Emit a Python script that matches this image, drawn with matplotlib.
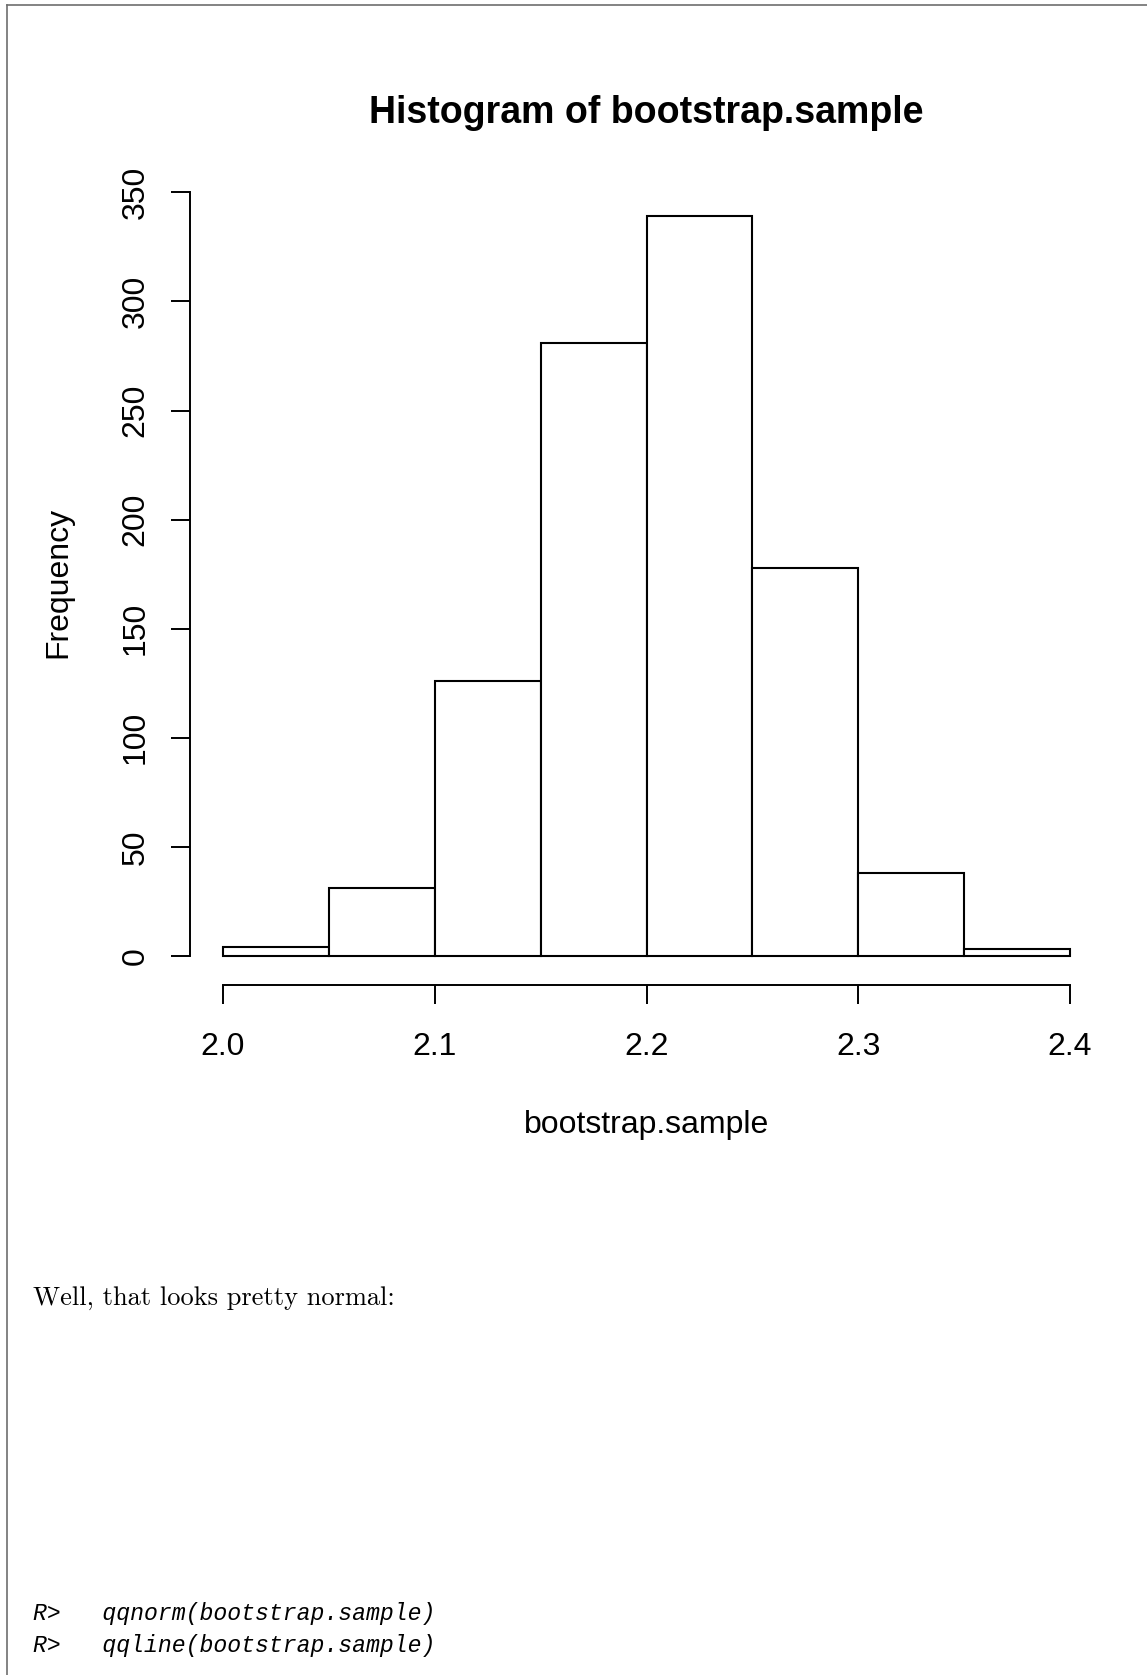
import matplotlib
matplotlib.use("Agg")
import matplotlib.pyplot as plt
from matplotlib.lines import Line2D
import numpy as np

# histogram of the bootstrap sample
bin_edges = [2.0, 2.05, 2.1, 2.15, 2.2, 2.25, 2.3, 2.35, 2.4]
counts = [4, 31, 126, 281, 339, 178, 38, 3]
x_ticks = [2.0, 2.1, 2.2, 2.3, 2.4]
x_tick_labels = ["2.0", "2.1", "2.2", "2.3", "2.4"]
y_ticks = [0, 50, 100, 150, 200, 250, 300, 350]

title = "Histogram of bootstrap.sample"
xlabel = "bootstrap.sample"
ylabel = "Frequency"
body_text = "Well, that looks pretty normal:"
code_lines = ["R>   qqnorm(bootstrap.sample)", "R>   qqline(bootstrap.sample)"]

W, H = 1147, 1675
fig = plt.figure(figsize=(W / 100, H / 100), dpi=100)
plt.rcParams["font.family"] = ["Liberation Sans", "DejaVu Sans"]

def fx(px):
    return px / W

def fy(py):
    return 1 - py / H

# axes box maps data range exactly onto the pixel positions of the reference
ax = fig.add_axes([fx(223), fy(956), fx(1070) - fx(223), (956 - 192.3) / H])
ax.set_xlim(2.0, 2.4)
ax.set_ylim(0, 350)

lefts = np.array(bin_edges[:-1])
widths = np.diff(bin_edges)
bars = ax.bar(lefts, counts, width=widths, align="edge", facecolor="white",
              edgecolor="black", linewidth=1.5)
for b in bars:
    b.set_clip_on(False)

# R style detached axes
for s in ["top", "right"]:
    ax.spines[s].set_visible(False)
ax.spines["left"].set_position(("outward", 24))
ax.spines["bottom"].set_position(("outward", 21))
ax.spines["left"].set_bounds(0, 350)
ax.spines["bottom"].set_bounds(2.0, 2.4)
ax.spines["left"].set_linewidth(1.4)
ax.spines["bottom"].set_linewidth(1.4)

ax.set_xticks(x_ticks)
ax.set_xticklabels(x_tick_labels)
ax.set_yticks(y_ticks)
ax.set_yticklabels([str(v) for v in y_ticks], rotation=90, va="center")
ax.tick_params(axis="both", direction="out", length=14, width=1.4, labelsize=23)
ax.tick_params(axis="x", pad=20)
ax.tick_params(axis="y", pad=14)

fig.text(fx(646.5), fy(122.7), title, ha="center", va="baseline",
         fontsize=27, fontweight="bold")
fig.text(fx(646.5), fy(1133), xlabel, ha="center", va="baseline", fontsize=23)
fig.text(fx(66.7), fy(582), ylabel, rotation=90, rotation_mode="anchor",
         ha="center", va="baseline", fontsize=23)

# document text below the plot
fig.text(fx(33), fy(1305), body_text, ha="left", va="baseline",
         fontsize=19, family="cmr10")
for i, line in enumerate(code_lines):
    fig.text(fx(33), fy(1620 + 32 * i), line, ha="left", va="baseline",
             fontsize=16.7, family="Liberation Mono", style="italic")

# page frame lines
fig.add_artist(Line2D([fx(7.5), 1], [fy(5), fy(5)], color="#6e6e6e", linewidth=1.2))
fig.add_artist(Line2D([fx(7.5), fx(7.5)], [fy(5), 0], color="#6e6e6e", linewidth=1.2))

fig.savefig("out.png", dpi=100)
